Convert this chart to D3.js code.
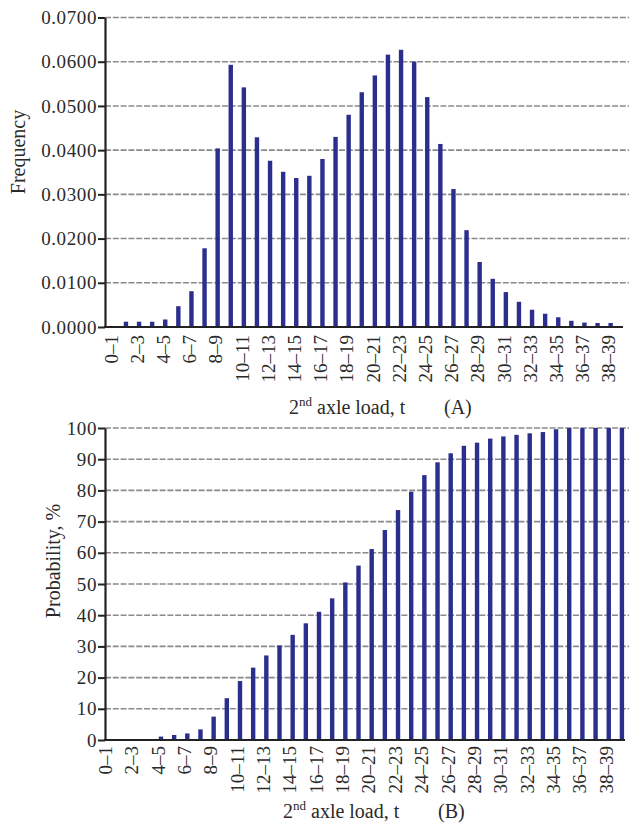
<!DOCTYPE html>
<html>
<head>
<meta charset="utf-8">
<script src="https://cdn.jsdelivr.net/npm/d3@7"></script>
<style>
  body { margin: 0; background: #fff; }
  svg { display: block; }
</style>
</head>
<body>
<svg id="chart" width="630" height="828"></svg>
<script>
// load classes (t)
const loadBins = [
  "0–1", "1–2", "2–3", "3–4", "4–5", "5–6", "6–7", "7–8", "8–9", "9–10",
  "10–11", "11–12", "12–13", "13–14", "14–15", "15–16", "16–17", "17–18", "18–19", "19–20",
  "20–21", "21–22", "22–23", "23–24", "24–25", "25–26", "26–27", "27–28", "28–29", "29–30",
  "30–31", "31–32", "32–33", "33–34", "34–35", "35–36", "36–37", "37–38", "38–39", "39–40"
];
const tickBins = [
  "0–1", "2–3", "4–5", "6–7", "8–9", "10–11", "12–13", "14–15", "16–17", "18–19",
  "20–21", "22–23", "24–25", "26–27", "28–29", "30–31", "32–33", "34–35", "36–37", "38–39"
];

// (A) frequency of 2nd axle load
const frequency = [
  0, 0.0012, 0.0012, 0.0012, 0.0017, 0.0047, 0.0081, 0.0178, 0.0404, 0.0593,
  0.0542, 0.0429, 0.0376, 0.0351, 0.0337, 0.0342, 0.0380, 0.0430, 0.0480, 0.0531,
  0.0569, 0.0616, 0.0627, 0.0600, 0.0520, 0.0414, 0.0312, 0.0219, 0.0147, 0.0109,
  0.0079, 0.0057, 0.0039, 0.0030, 0.0022, 0.0014, 0.0010, 0.0009, 0.0009, 0
];
// (B) cumulative probability, %
const probability = [
  0, 0, 0, 0, 1.1, 1.6, 2.1, 3.4, 7.5, 13.4,
  18.9, 23.2, 27.1, 30.3, 33.7, 37.4, 41.1, 45.4, 50.5, 55.9,
  61.2, 67.3, 73.7, 79.6, 84.9, 89.0, 91.9, 94.3, 95.3, 96.6,
  97.3, 97.8, 98.3, 98.7, 99.6, 100, 100, 100, 100, 100
];

const freqTicks = [0, 0.01, 0.02, 0.03, 0.04, 0.05, 0.06, 0.07];
const probTicks = [0, 10, 20, 30, 40, 50, 60, 70, 80, 90, 100];

const serif = "'Liberation Serif', 'Times New Roman', Times, serif";
const svg = d3.select("#chart").attr("font-family", serif);
const barColor = "#2c2e8d";
const axisLeftX = 105;
const gridRight = 629;
const fontSize = 19;

function drawPanel(cfg) {
  const g = svg.append("g");

  const x = d3.scaleBand().domain(loadBins).range(cfg.xRange).padding(0);
  const y = d3.scaleLinear().domain(cfg.yDomain).range(cfg.yRange);

  // dashed grid
  g.append("g")
    .selectAll("line")
    .data(cfg.ticks.filter((d) => d !== 0))
    .join("line")
    .attr("x1", axisLeftX)
    .attr("x2", gridRight)
    .attr("y1", (d) => y(d))
    .attr("y2", (d) => y(d))
    .attr("stroke", "#8a8a8a")
    .attr("stroke-width", 1.6)
    .attr("stroke-dasharray", "6,1.8");

  // bars
  const bw = 4.4;
  g.append("g")
    .selectAll("rect")
    .data(cfg.values.map((v, i) => ({ bin: loadBins[i], v })))
    .join("rect")
    .attr("x", (d) => x(d.bin) + x.bandwidth() / 2 - bw / 2)
    .attr("width", bw)
    .attr("y", (d) => y(d.v))
    .attr("height", (d) => y(0) - y(d.v))
    .attr("fill", barColor);

  // y axis
  const ya = g.append("g")
    .attr("transform", `translate(${axisLeftX},0)`)
    .call(d3.axisLeft(y).tickValues(cfg.ticks).tickFormat(cfg.format)
      .tickSize(7).tickSizeOuter(0).tickPadding(1))
    .attr("font-family", serif)
    .attr("font-size", fontSize);
  ya.select(".domain").attr("stroke", "#222").attr("stroke-width", 2.2);
  ya.selectAll(".tick line").attr("stroke", "#222").attr("stroke-width", 2);
  ya.selectAll(".tick text")
    .style("font-family", serif)
    .attr("letter-spacing", 0.6)
    .attr("fill", "#2a2a2a");

  // x axis
  const xa = g.append("g")
    .attr("transform", `translate(0,${y(0)})`)
    .call(d3.axisBottom(x).tickValues(tickBins).tickSize(0).tickPadding(0))
    .attr("font-family", serif)
    .attr("font-size", fontSize);
  xa.select(".domain").remove();
  xa.append("line")
    .attr("x1", axisLeftX - 1)
    .attr("x2", cfg.axisRight)
    .attr("stroke", "#222")
    .attr("stroke-width", 2.2);
  xa.selectAll(".tick text")
    .style("font-family", serif)
    .attr("transform", "rotate(-90)")
    .attr("text-anchor", "end")
    .attr("x", -cfg.labelGap)
    .attr("y", 0)
    .attr("dy", cfg.labelDy)
    .attr("fill", "#2a2a2a");

  // y title
  g.append("text")
    .attr("transform", `translate(${cfg.yTitlePos[0]},${cfg.yTitlePos[1]}) rotate(-90)`)
    .attr("text-anchor", "middle")
    .attr("dy", "0.35em")
    .attr("font-size", 20)
    .attr("fill", "#2a2a2a")
    .text(cfg.yTitle);

  // x title
  const xt = g.append("text")
    .attr("x", cfg.xTitlePos[0])
    .attr("y", cfg.xTitlePos[1])
    .attr("font-size", 20)
    .attr("fill", "#2a2a2a");
  xt.append("tspan").text("2");
  xt.append("tspan").attr("font-size", 13).attr("dy", -8).text("nd");
  xt.append("tspan").attr("dy", 8).text(" axle load, t");
  g.append("text")
    .attr("x", cfg.xTitlePos[0] + 155)
    .attr("y", cfg.xTitlePos[1])
    .attr("font-size", 20)
    .attr("fill", "#2a2a2a")
    .text(cfg.panel);
}

drawPanel({
  values: frequency,
  ticks: freqTicks,
  yDomain: [0, 0.07],
  yRange: [327, 17.5],
  xRange: [106.3, 630.3],
  axisRight: 623,
  format: d3.format(".4f"),
  labelGap: 8,
  labelDy: "0.25em",
  yTitle: "Frequency",
  yTitlePos: [18, 152],
  xTitlePos: [289, 414],
  panel: "(A)"
});

drawPanel({
  values: probability,
  ticks: probTicks,
  yDomain: [0, 100],
  yRange: [740, 428],
  xRange: [101.7, 628.5],
  axisRight: 625,
  format: d3.format("d"),
  labelGap: 6,
  labelDy: "0.2em",
  yTitle: "Probability, %",
  yTitlePos: [53, 561],
  xTitlePos: [283, 818],
  panel: "(B)"
});
</script>
</body>
</html>
